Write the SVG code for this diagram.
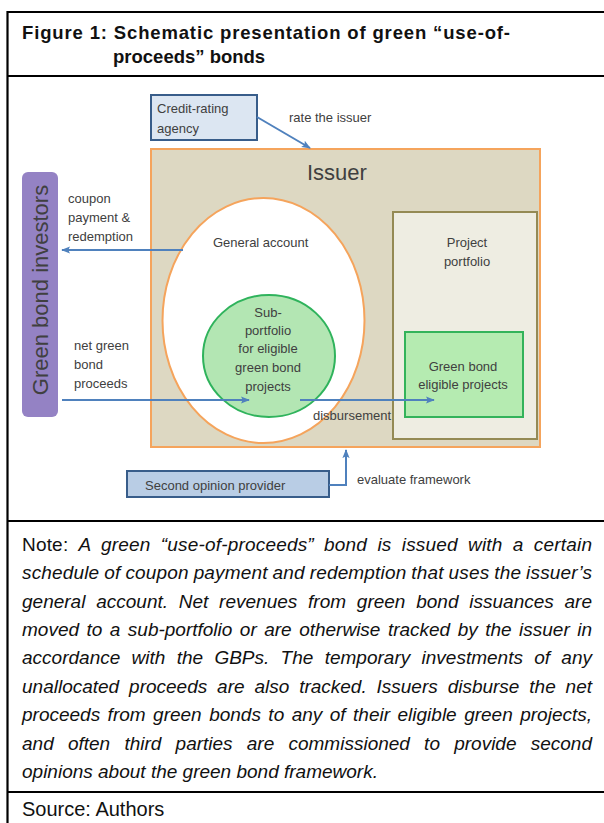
<svg xmlns="http://www.w3.org/2000/svg" width="604" height="823" viewBox="0 0 604 823">
<defs>
<style>
.frame{stroke:#000;stroke-width:2.2;fill:none}
.t{font-family:"Liberation Sans",Arial,sans-serif;fill:#404040;font-size:13px}
.c{text-anchor:middle}
.conn{stroke:#4f81bd;stroke-width:2;fill:none}
.title{font-family:"Liberation Sans",Arial,sans-serif;font-weight:bold;font-size:18.5px;fill:#111}
.note{font-family:"Liberation Sans",Arial,sans-serif;font-size:19px;fill:#111;font-style:italic}
.up{font-style:normal}
</style>
<marker id="ah" viewBox="0 0 10 10" refX="9" refY="5" markerWidth="9" markerHeight="9" markerUnits="userSpaceOnUse" orient="auto">
<path d="M0,1 L10,5 L0,9 L2,5 z" fill="#4f81bd"/>
</marker>
</defs>
<rect width="604" height="823" fill="#fff"/>
<g id="frame">
<path class="frame" d="M604,12 H7.5 V823"/>
<path class="frame" d="M7.5,76 H604 M7.5,521 H604 M7.5,792 H604"/>
</g>
<g id="title">
<text class="title" x="22" y="39" textLength="488" lengthAdjust="spacing">Figure 1:  Schematic presentation of green “use-of-</text>
<text class="title" x="113" y="63">proceeds” bonds</text>
</g>
<g id="issuer">
<rect x="151" y="149" width="389" height="298" fill="#ddd8c2" stroke="#f5a45c" stroke-width="2"/>
<text class="t" x="307" y="180" style="font-size:22px">Issuer</text>
</g>
<g id="general-account">
<ellipse cx="263.5" cy="320.5" rx="101" ry="122.5" fill="#fff" stroke="#f5a45c" stroke-width="2"/>
<text class="t" x="213" y="247">General account</text>
</g>
<g id="sub-portfolio">
<ellipse cx="269" cy="356" rx="66" ry="61" fill="#b3e6b3" stroke="#2fb35c" stroke-width="2"/>
<text class="t c" x="268" y="317">Sub-</text>
<text class="t c" x="268" y="335">portfolio</text>
<text class="t c" x="268" y="353">for eligible</text>
<text class="t c" x="268" y="372">green bond</text>
<text class="t c" x="268" y="391">projects</text>
</g>
<g id="project-portfolio">
<rect x="393" y="212" width="144" height="227" fill="#eeede2" stroke="#948a54" stroke-width="2"/>
<text class="t c" x="467" y="247">Project</text>
<text class="t c" x="467" y="266">portfolio</text>
</g>
<g id="eligible-projects">
<rect x="405" y="332" width="118" height="85" fill="#b5ebb1" stroke="#33b35a" stroke-width="2"/>
<text class="t c" x="463" y="371">Green bond</text>
<text class="t c" x="463" y="389">eligible projects</text>
</g>
<g id="credit-rating">
<rect x="151" y="95" width="106" height="45" fill="#dce6f2" stroke="#385d8a" stroke-width="2"/>
<text class="t" x="157" y="113">Credit-rating</text>
<text class="t" x="157" y="133">agency</text>
</g>
<g id="investors">
<rect x="22" y="172" width="36" height="245" rx="6" fill="#9482c4"/>
<text class="t c" transform="translate(48,290) rotate(-90)" style="font-size:22px">Green bond investors</text>
</g>
<g id="second-opinion">
<rect x="127" y="471" width="202" height="26" fill="#b9cde5" stroke="#385d8a" stroke-width="2"/>
<text class="t" x="145" y="490">Second opinion provider</text>
</g>
<g id="connectors">
<line class="conn" x1="257" y1="117" x2="310" y2="148" marker-end="url(#ah)"/>
<line class="conn" x1="183" y1="250" x2="62" y2="250" marker-end="url(#ah)"/>
<line class="conn" x1="62" y1="400" x2="249" y2="400" marker-end="url(#ah)"/>
<line class="conn" x1="300" y1="400" x2="434" y2="400" marker-end="url(#ah)"/>
<polyline class="conn" points="329,485 346,485 346,450" marker-end="url(#ah)"/>
</g>
<g id="labels">
<text class="t" x="289" y="122">rate the issuer</text>
<text class="t" x="68" y="203">coupon</text>
<text class="t" x="68" y="222">payment &amp;</text>
<text class="t" x="68" y="241">redemption</text>
<text class="t" x="74" y="350">net green</text>
<text class="t" x="74" y="369">bond</text>
<text class="t" x="74" y="388">proceeds</text>
<text class="t" x="313" y="420">disbursement</text>
<text class="t" x="357" y="484">evaluate framework</text>
</g>
<g id="note">
<text class="note" x="22" y="551" word-spacing="4.8" textLength="570" lengthAdjust="spacing"><tspan class="up">Note: </tspan>A green “use-of-proceeds” bond is issued with a certain</text>
<text class="note" x="22" y="579" word-spacing="-0.5" textLength="570" lengthAdjust="spacing">schedule of coupon payment and redemption that uses the issuer’s</text>
<text class="note" x="22" y="608" word-spacing="5.5" textLength="570" lengthAdjust="spacing">general account. Net revenues from green bond issuances are</text>
<text class="note" x="22" y="636" word-spacing="2.2" textLength="570" lengthAdjust="spacing">moved to a sub-portfolio or are otherwise tracked by the issuer in</text>
<text class="note" x="22" y="664" word-spacing="6" textLength="570" lengthAdjust="spacing">accordance with the GBPs. The temporary investments of any</text>
<text class="note" x="22" y="693" word-spacing="4.6" textLength="570" lengthAdjust="spacing">unallocated proceeds are also tracked. Issuers disburse the net</text>
<text class="note" x="22" y="721" word-spacing="2.2" textLength="570" lengthAdjust="spacing">proceeds from green bonds to any of their eligible green projects,</text>
<text class="note" x="22" y="750" word-spacing="8.9" textLength="570" lengthAdjust="spacing">and often third parties are commissioned to provide second</text>
<text class="note" x="22" y="778">opinions about the green bond framework.</text>
</g>
<g id="source">
<text class="note" x="22" y="816" style="font-style:normal;font-size:20px">Source: Authors</text>
</g>
</svg>
